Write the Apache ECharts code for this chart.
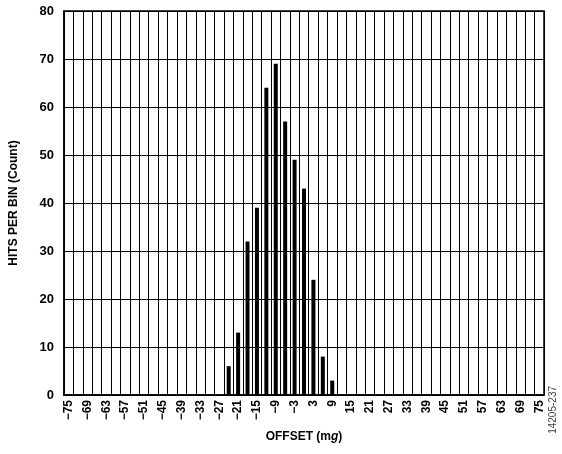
<!DOCTYPE html>
<html>
<head>
<meta charset="utf-8">
<script src="https://cdn.jsdelivr.net/npm/echarts@6/dist/echarts.min.js"></script>
<style>
  html, body { margin: 0; padding: 0; background: #fff; }
  #chart { width: 562px; height: 454px; }
</style>
</head>
<body>
<div id="chart"></div>
<script>
// bins every 3 mg from -75 to 75
const binStart = -75
const binStep = 3
const binCount = 51
const offsets = []
for (let i = 0; i < binCount; i++) offsets.push(binStart + i * binStep)

// hits per bin, only non-empty bins
const hitBins = [-24, -21, -18, -15, -12, -9, -6, -3, 0, 3, 6, 9]
const hitCounts = [6, 13, 32, 39, 64, 69, 57, 49, 43, 24, 8, 3]

const yTicks = [0, 10, 20, 30, 40, 50, 60, 70, 80]

const fmt = v => String(v).replace('-', '\u2212')

const seriesData = offsets.map(o => {
  const k = hitBins.indexOf(o)
  return k >= 0 ? hitCounts[k] : null
})

const chart = echarts.init(document.getElementById('chart'))

const font = 'Liberation Sans, Arial, sans-serif'

const option = {
  animation: false,
  grid: {
    left: 63,
    right: 18,
    top: 11,
    bottom: 59,
    show: true,
    borderColor: '#000',
    borderWidth: 1.5,
    backgroundColor: 'transparent'
  },
  xAxis: {
    type: 'category',
    data: offsets.map(fmt),
    boundaryGap: true,
    name: 'OFFSET (m{i|g})',
    nameLocation: 'middle',
    nameGap: 36,
    nameTextStyle: {
      fontFamily: font,
      fontSize: 12,
      fontWeight: 'bold',
      color: '#000',
      rich: {
        i: { fontFamily: font, fontSize: 12, fontWeight: 'bold', fontStyle: 'italic', color: '#000' }
      }
    },
    axisLine: { lineStyle: { color: '#000', width: 1.5 } },
    axisTick: { show: false, interval: 0 },
    axisLabel: {
      interval: 1,
      rotate: 90,
      margin: 5,
      fontFamily: font,
      fontSize: 12,
      fontWeight: 'bold',
      color: '#000'
    },
    splitLine: {
      show: true,
      interval: 0,
      lineStyle: { color: '#000', width: 1 }
    }
  },
  yAxis: {
    type: 'value',
    min: yTicks[0],
    max: yTicks[yTicks.length - 1],
    interval: 10,
    name: 'HITS PER BIN (Count)',
    nameLocation: 'middle',
    nameGap: 44,
    nameTextStyle: {
      fontFamily: font,
      fontSize: 12,
      fontWeight: 'bold',
      color: '#000'
    },
    axisLine: { show: true, lineStyle: { color: '#000', width: 1.5 } },
    axisTick: { show: false },
    axisLabel: {
      margin: 10,
      fontFamily: font,
      fontSize: 13,
      fontWeight: 'bold',
      color: '#000'
    },
    splitLine: { show: true, lineStyle: { color: '#000', width: 1 } }
  },
  series: [
    {
      type: 'bar',
      data: seriesData,
      barWidth: 4,
      itemStyle: { color: '#000' }
    }
  ],
  graphic: [
    {
      type: 'text',
      left: 548,
      top: 386,
      rotation: Math.PI / 2,
      style: {
        text: '14205-237',
        fontFamily: font,
        fontSize: 10,
        fill: '#444'
      }
    }
  ]
}

chart.setOption(option)
</script>
</body>
</html>
